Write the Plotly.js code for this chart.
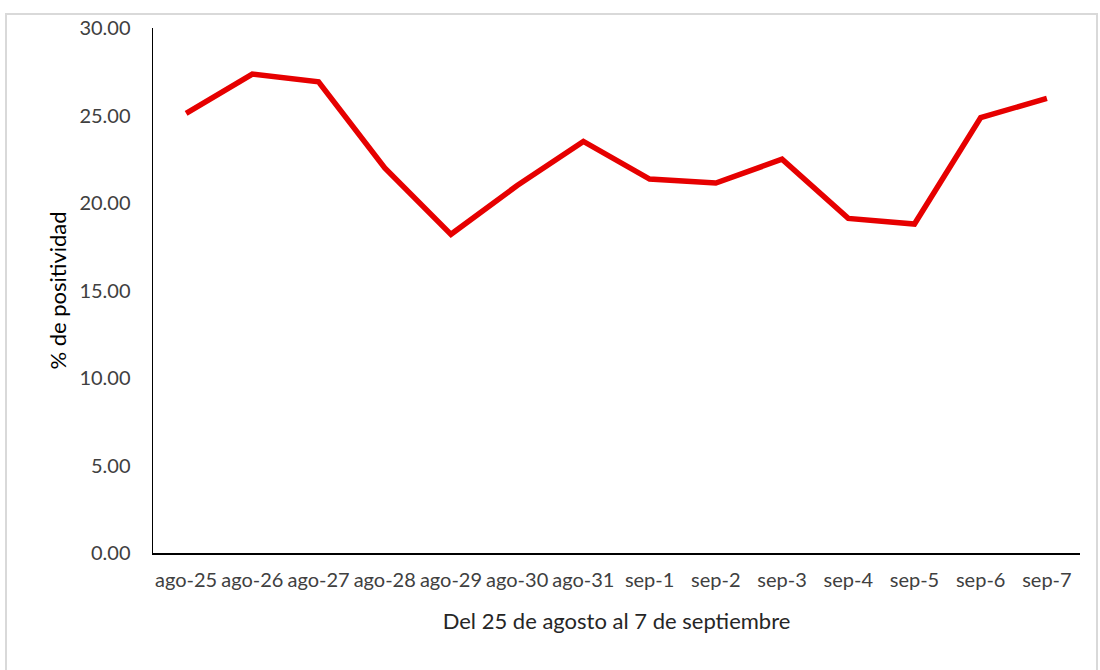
<!DOCTYPE html>
<html>
<head>
<meta charset="utf-8">
<script src="https://cdn.plot.ly/plotly-3.0.1.min.js"></script>
<style>
  html, body { margin: 0; padding: 0; background: #fff; }
  #wrap { position: relative; width: 1100px; height: 670px; }
  #chart { width: 1100px; height: 670px; }
  #frame { position: absolute; left: 5px; top: 13px; width: 1093px; height: 670px;
           border: 2px solid #d9d9d9; box-sizing: border-box; pointer-events: none; }
</style>
</head>
<body>
<div id="wrap">
  <div id="chart"></div>
  <div id="frame"></div>
</div>
<script>
const categories = ["ago-25","ago-26","ago-27","ago-28","ago-29","ago-30","ago-31",
                    "sep-1","sep-2","sep-3","sep-4","sep-5","sep-6","sep-7"];
const positividad = [25.12, 27.37, 26.93, 22.0, 18.21, 21.0, 23.52,
                     21.37, 21.14, 22.50, 19.12, 18.80, 24.88, 25.98];
const yTickVals = [0, 5, 10, 15, 20, 25, 30];
const yTickText = ["0.00","5.00","10.00","15.00","20.00","25.00","30.00"];
const xTitle = "Del 25 de agosto al 7 de septiembre";
const yTitle = "% de positividad";

const fontFam = "Lato, 'Open Sans', sans-serif";
const trace = {
  x: categories,
  y: positividad,
  type: "scatter",
  mode: "lines",
  line: { color: "#E60000", width: 5.5 },
  hoverinfo: "x+y"
};
const layout = {
  width: 1100, height: 670,
  margin: { l: 153, r: 20, t: 28, b: 117 },
  paper_bgcolor: "#fff", plot_bgcolor: "#fff",
  showlegend: false,
  font: { family: fontFam, color: "#404040", size: 20 },
  xaxis: {
    type: "category",
    range: [-0.5, 13.5],
    showline: true, linecolor: "#000", linewidth: 1.5,
    showgrid: false, zeroline: false,
    ticks: "", ticklabelstandoff: 8,
    tickfont: { family: fontFam, size: 20, color: "#404040" },
    title: { text: xTitle, font: { family: fontFam, size: 22, color: "#262626" }, standoff: 24 }
  },
  yaxis: {
    range: [0, 30],
    tickvals: yTickVals, ticktext: yTickText,
    showline: true, linecolor: "#000", linewidth: 1.5,
    showgrid: false, zeroline: false,
    ticks: "", ticklabelstandoff: 17,
    tickfont: { family: fontFam, size: 20, color: "#404040" },
    title: { text: yTitle, font: { family: fontFam, size: 22, color: "#000" }, standoff: 6 }
  }
};
Plotly.newPlot("chart", [trace], layout, { displayModeBar: false, staticPlot: true });
</script>
</body>
</html>
